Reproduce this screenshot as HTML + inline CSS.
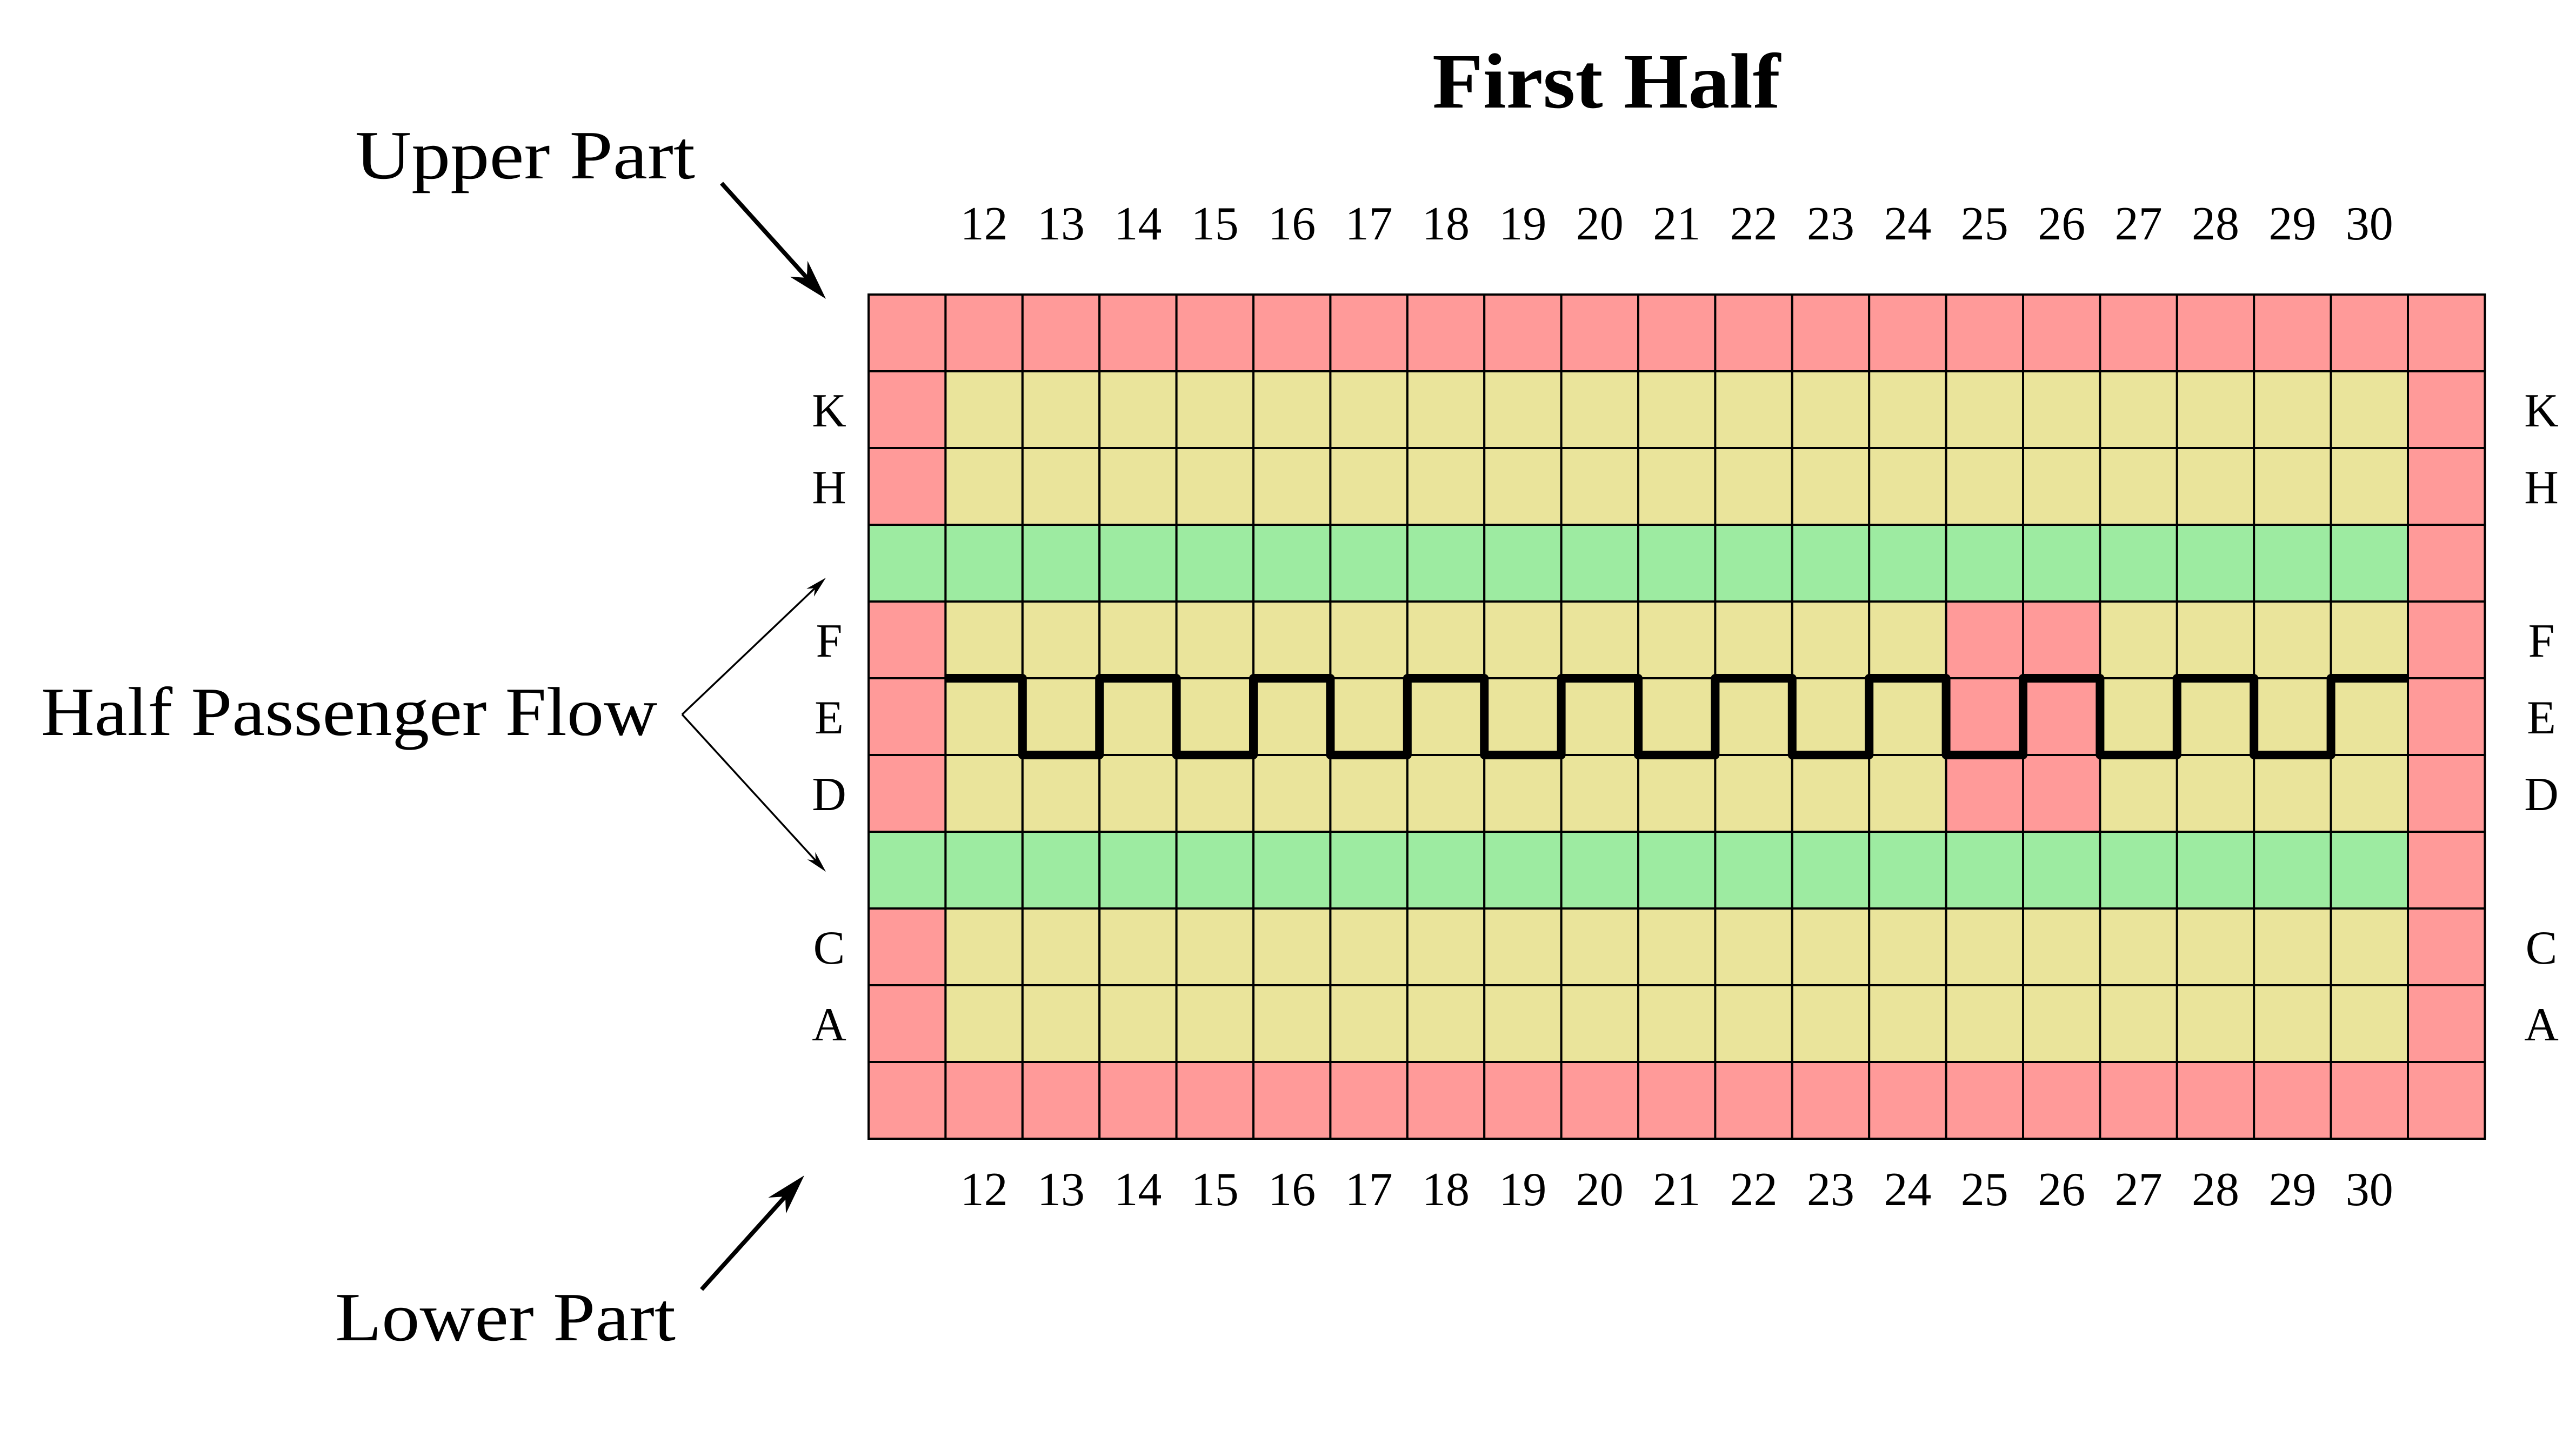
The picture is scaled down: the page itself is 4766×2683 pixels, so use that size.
<!DOCTYPE html>
<html><head><meta charset="utf-8"><style>
html,body{margin:0;padding:0;background:#fff;}
svg{display:block;font-family:"Liberation Serif",serif;}
</style></head><body>
<svg id="chart" width="4766" height="2683" viewBox="0 0 4766 2683" xmlns="http://www.w3.org/2000/svg">
<text x="2650" y="199" font-size="145" font-weight="bold" textLength="644" lengthAdjust="spacingAndGlyphs">First Half</text>
<g id="cells"></g>
<g id="labels"></g>
<path id="flow" fill="none" stroke="#000" stroke-width="16" stroke-linejoin="round"/>
<text x="657" y="330" font-size="128" textLength="629" lengthAdjust="spacingAndGlyphs">Upper Part</text>
<text x="76" y="1360" font-size="128" textLength="1140" lengthAdjust="spacingAndGlyphs">Half Passenger Flow</text>
<text x="620" y="2480" font-size="128" textLength="630" lengthAdjust="spacingAndGlyphs">Lower Part</text>
<g id="arrows"></g>
</svg>
<script>
const seatNumbers = [12,13,14,15,16,17,18,19,20,21,22,23,24,25,26,27,28,29,30];
const rowNames = ["", "K", "H", "", "F", "E", "D", "", "C", "A", ""];
const rowTypes = ["border","seat","seat","aisle","seat","seat","seat","aisle","seat","seat","border"];
const blockedSeats = [[25,"F"],[25,"E"],[25,"D"],[26,"F"],[26,"E"],[26,"D"]];
const flowLevels = [1,0,1,0,1,0,1,0,1,0,1,0,1,0,1,0,1,0,1];

const X0 = 1607, Y0 = 545, CW = 142.4, CH = 142;
const nCols = seatNumbers.length + 2;
const colX = i => X0 + i * CW;
const rowY = r => Y0 + r * CH;
const RED = "#FF9A99", YEL = "#EAE49B", GRN = "#9DEBA1";
const NS = "http://www.w3.org/2000/svg";
const cells = document.getElementById('cells');
const labels = document.getElementById('labels');

for (let r = 0; r < rowNames.length; r++) {
  for (let c = 0; c < nCols; c++) {
    let fill;
    const t = rowTypes[r];
    if (c === nCols - 1) fill = RED;
    else if (t === "border") fill = RED;
    else if (t === "aisle") fill = GRN;
    else if (c === 0) fill = RED;
    else {
      const num = seatNumbers[c - 1];
      const blocked = blockedSeats.some(b => b[0] === num && b[1] === rowNames[r]);
      fill = blocked ? RED : YEL;
    }
    const rect = document.createElementNS(NS, 'rect');
    rect.setAttribute('x', colX(c)); rect.setAttribute('y', rowY(r));
    rect.setAttribute('width', CW); rect.setAttribute('height', CH);
    rect.setAttribute('fill', fill); rect.setAttribute('stroke', '#000'); rect.setAttribute('stroke-width', '4');
    
    
    cells.appendChild(rect);
  }
}

seatNumbers.forEach((n, i) => {
  const cx = colX(i + 1) + CW / 2;
  [443, 2230].forEach((y, k) => {
    const t = document.createElementNS(NS, 'text');
    t.setAttribute('x', cx); t.setAttribute('y', y);
    t.setAttribute('text-anchor', 'middle'); t.setAttribute('font-size', '88');
    t.textContent = n;
    
    
    labels.appendChild(t);
  });
});

rowNames.forEach((name, r) => {
  if (!name) return;
  const cy = rowY(r) + CH / 2 + 31;
  [1534, 4702].forEach((x, k) => {
    const t = document.createElementNS(NS, 'text');
    t.setAttribute('x', x); t.setAttribute('y', cy);
    t.setAttribute('text-anchor', 'middle'); t.setAttribute('font-size', '88');
    t.textContent = name;
    
    
    labels.appendChild(t);
  });
});

const eRow = rowNames.indexOf("E");
const lvlY = l => l ? rowY(eRow) : rowY(eRow + 1);
let d = "";
flowLevels.forEach((l, i) => {
  const x1 = colX(i + 1), x2 = colX(i + 2), y = lvlY(l);
  d += (i === 0 ? "M" : "L") + x1 + "," + y + " L" + x2 + "," + y + " ";
});
document.getElementById('flow').setAttribute('d', d);

const arrows = document.getElementById('arrows');
function arrow(name, x1, y1, x2, y2, w, hl, hw) {
  const dx = x2 - x1, dy = y2 - y1, L = Math.hypot(dx, dy);
  const ux = dx / L, uy = dy / L, px = -uy, py = ux;
  const bx = x2 - ux * hl, by = y2 - uy * hl;
  const g = document.createElementNS(NS, 'g');
  
  
  const ln = document.createElementNS(NS, 'line');
  ln.setAttribute('x1', x1); ln.setAttribute('y1', y1);
  ln.setAttribute('x2', x2 - ux * hl * 0.6); ln.setAttribute('y2', y2 - uy * hl * 0.6);
  ln.setAttribute('stroke', '#000'); ln.setAttribute('stroke-width', w);
  g.appendChild(ln);
  const nx = x2 - ux * hl * 0.7, ny = y2 - uy * hl * 0.7;
  const pg = document.createElementNS(NS, 'polygon');
  pg.setAttribute('points', `${x2},${y2} ${bx + px * hw},${by + py * hw} ${nx},${ny} ${bx - px * hw},${by - py * hw}`);
  pg.setAttribute('fill', '#000');
  g.appendChild(pg);
  arrows.appendChild(g);
}
arrow('upper-part-arrow', 1335, 339, 1528, 553, 8, 75, 22);
arrow('lower-part-arrow', 1298, 2386, 1488, 2175, 8, 75, 22);
arrow('flow-arrow-up', 1262, 1322, 1528, 1069, 3.5, 40, 10);
arrow('flow-arrow-down', 1262, 1322, 1528, 1613, 3.5, 40, 10);
</script>
</body></html>
